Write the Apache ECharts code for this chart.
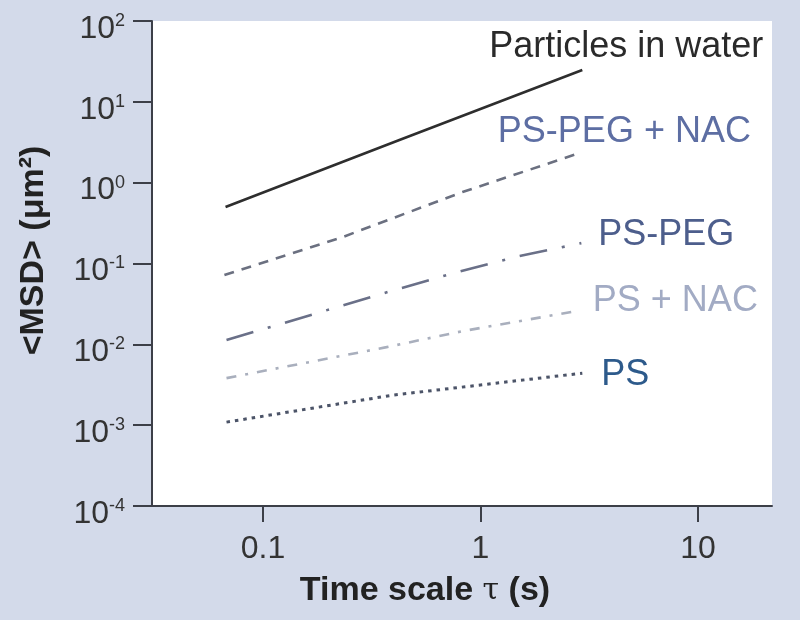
<!DOCTYPE html>
<html><head><meta charset="utf-8">
<script src="https://cdn.jsdelivr.net/npm/echarts@6/dist/echarts.min.js"></script>
<style>html,body{margin:0;padding:0;background:#d3daea}#c{width:800px;height:620px}</style>
</head><body><div id="c"></div>
<script>
// ---- data ----
const seriesNames = ['Particles in water', 'PS-PEG + NAC', 'PS-PEG', 'PS + NAC', 'PS'];
const tauWater  = [0.0673, 0.424, 2.94];
const msdWater  = [0.50, 3.37, 24.8];
const tauPegNac = [0.0665, 0.232, 0.827, 2.85];
const msdPegNac = [0.072, 0.212, 0.766, 2.32];
const tauPeg    = [0.068, 0.402, 0.784, 1.51, 2.91];
const msdPeg    = [0.0113, 0.0469, 0.0784, 0.1236, 0.1786];
const tauPsNac  = [0.068, 0.370, 0.827, 2.76];
const msdPsNac  = [0.00382, 0.00923, 0.01455, 0.0258];
const tauPs     = [0.068, 0.394, 2.94];
const msdPs     = [0.00109, 0.00235, 0.0044];
const xTickValues = [0.1, 1, 10];
const xTickLabels = ['0.1', '1', '10'];
const yTickValues = [1e-4, 1e-3, 1e-2, 1e-1, 1, 10, 100];

const FONT = "'Liberation Sans', Arial, Helvetica, sans-serif";
const AXIS_COLOR = '#3c3f48';

function pairs(t, m) { return t.map((v, i) => [v, m[i]]); }

const styles = [
  { line: { color: '#2e2e2e', width: 2.6, type: 'solid' }, label: { color: '#2a2a2a', offset: [44, -23] } },
  { line: { color: '#6b7080', width: 2.6, type: [10, 8] }, label: { color: '#5d6ea3', offset: [45, -21] } },
  { line: { color: '#6a7088', width: 2.6, type: [28, 15, 3, 15] }, label: { color: '#4d5e8c', offset: [85, -8] } },
  { line: { color: '#a9afbd', width: 2.6, type: [10, 9, 3, 9] }, label: { color: '#a2abc4', offset: [99, -10] } },
  { line: { color: '#4c5468', width: 3, type: [3.5, 5] }, label: { color: '#2d5a8b', offset: [43, 2] } }
];
const dataSets = [
  [tauWater, msdWater], [tauPegNac, msdPegNac], [tauPeg, msdPeg], [tauPsNac, msdPsNac], [tauPs, msdPs]
];

const series = dataSets.map((d, i) => {
  const t = d[0], m = d[1];
  return {
    name: seriesNames[i],
    type: 'line',
    data: pairs(t, m),
    showSymbol: false,
    symbol: 'none',
    lineStyle: styles[i].line,
    markPoint: {
      symbol: 'circle', symbolSize: 0, silent: true, animation: false,
      data: [{ coord: [t[t.length - 1], m[m.length - 1]], name: seriesNames[i] }],
      label: {
        show: true, position: 'inside', formatter: seriesNames[i],
        offset: styles[i].label.offset, color: styles[i].label.color,
        fontSize: 36, fontFamily: FONT
      }
    }
  };
});

const chart = echarts.init(document.getElementById('c'));
chart.setOption({
  animation: false,
  backgroundColor: '#d3daea',
  grid: { left: 152, right: 28, top: 21, bottom: 114, show: true, backgroundColor: '#ffffff', borderWidth: 0, containLabel: false, outerBoundsMode: 'none' },
  xAxis: {
    type: 'log', logBase: 10, min: 0.0309, max: 21.9,
    name: '{t|Time scale }{u|τ}{t| (s)}', nameLocation: 'middle', nameGap: 68,
    nameTextStyle: {
      padding: [0, 74, 0, 0],
      rich: {
        t: { fontSize: 34, fontWeight: 'bold', fontFamily: FONT, color: '#222' },
        u: { fontSize: 30, fontWeight: 'normal', fontFamily: "'DejaVu Serif', serif", color: '#222' }
      }
    },
    axisLine: { show: true, lineStyle: { color: AXIS_COLOR, width: 2 } },
    axisTick: { show: true, inside: false, length: 16, customValues: xTickValues, lineStyle: { color: AXIS_COLOR, width: 2 } },
    minorTick: { show: false },
    splitLine: { show: false },
    axisLabel: {
      customValues: xTickValues, margin: 27, fontSize: 32, fontFamily: FONT, color: '#333',
      formatter: function (v) {
        const i = xTickValues.findIndex(t => Math.abs(Math.log10(t) - Math.log10(v)) < 1e-6);
        return i >= 0 ? xTickLabels[i] : '';
      }
    }
  },
  yAxis: {
    type: 'log', logBase: 10, min: 1e-4, max: 100, splitNumber: 6,
    name: '<MSD> (μm²)', nameLocation: 'middle', nameGap: 101,
    nameTextStyle: { fontSize: 34, fontWeight: 'bold', fontFamily: FONT, color: '#222', padding: [0, 0, 0, 26] },
    axisLine: { show: true, lineStyle: { color: AXIS_COLOR, width: 2 } },
    axisTick: { show: true, inside: false, length: 19, customValues: yTickValues, lineStyle: { color: AXIS_COLOR, width: 2 } },
    minorTick: { show: false },
    splitLine: { show: false },
    axisLabel: {
      customValues: yTickValues, margin: 27,
      formatter: function (v) {
        const e = Math.round(Math.log10(v));
        return '{a|10}{b|' + e + '}';
      },
      rich: {
        a: { fontSize: 32, fontFamily: FONT, color: '#333', lineHeight: 32, padding: [16, 0, 0, 0] },
        b: { fontSize: 18, fontFamily: FONT, color: '#333', lineHeight: 20 }
      }
    }
  },
  series: series
});
</script>
</body></html>
